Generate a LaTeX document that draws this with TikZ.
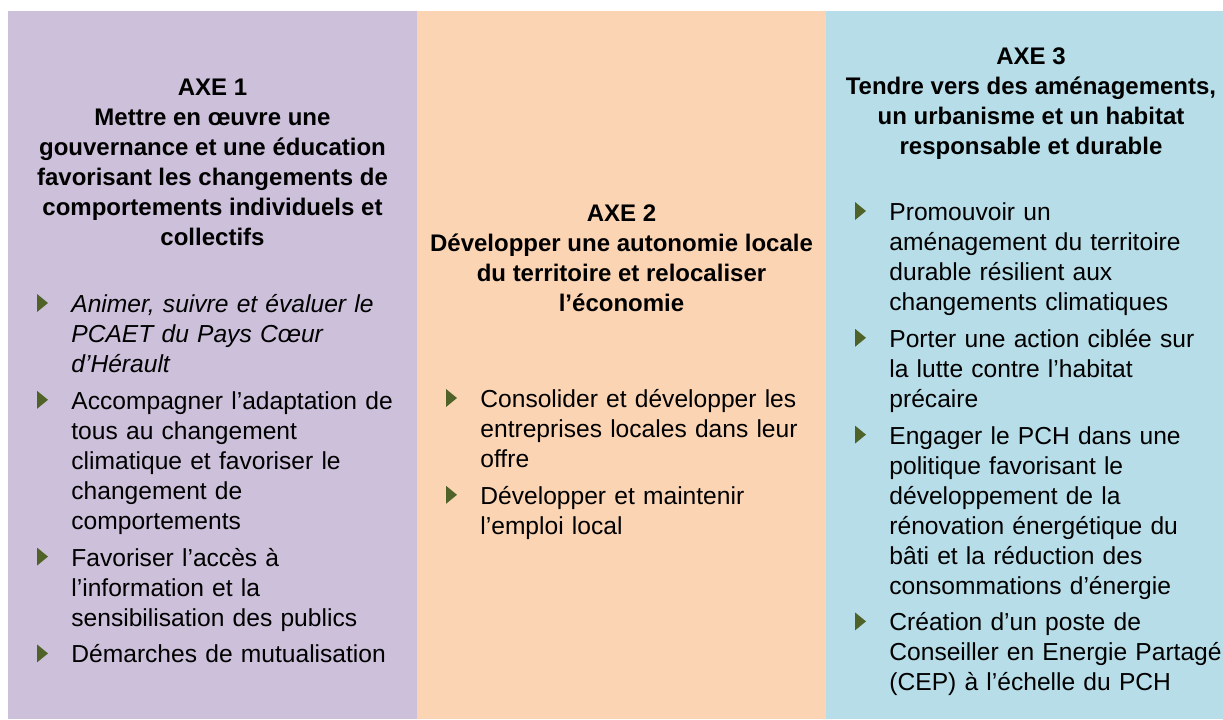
\documentclass[tikz,border=0pt]{standalone}
\usepackage{fontspec}
\setmainfont{Liberation Sans}
\usetikzlibrary{positioning, calc}

\definecolor{violet1}{HTML}{CCC0DA}
\definecolor{peche}{HTML}{FBD4B4}
\definecolor{bleu}{HTML}{B7DDE8}
\definecolor{vertpuce}{HTML}{4F6228}

\tikzset{
    titre/.style={align=center, inner sep=0pt, anchor=north,
        font=\fontsize{12}{15}\selectfont\bfseries,
        execute at begin node=\strut, execute at end node=\strut},
    objectif/.style={align=left, text width=190pt, inner sep=0pt,
        font=\fontsize{12.3}{15}\selectfont,
        execute at begin node=\strut, execute at end node=\strut},
    pucestyle/.style={fill=vertpuce}
}
\newcommand{\fleche}[1]{\fill[pucestyle] ($(#1.north west)+(-17pt,-1.5pt)$) -- ++(5.5pt,-4.5pt) -- ++(-5.5pt,-4.5pt) -- cycle;}

\begin{document}
\begin{tikzpicture}[x=0.5pt, y=-0.5pt, node distance=3pt]
                        \useasboundingbox (0,0) rectangle (1223,719);
                        \fill[violet1] (8,11) rectangle (417,719);
                        \fill[peche] (417,11) rectangle (826,719);
                        \fill[bleu] (826,11) rectangle (1223,719);

                        % axe 1
                        \node[titre] (axe1) at (212.5,79) {AXE 1\\ Mettre en œuvre une\\ gouvernance et une éducation\\ favorisant les changements de\\ comportements individuels et\\ collectifs};
                        \node[objectif, anchor=north west] (a11) at (71,291) {\itshape Animer, suivre et évaluer le\\ PCAET du Pays Cœur\\ d’Hérault};
                        \node[objectif, below=of a11] (a12) {Accompagner l’adaptation de\\ tous au changement\\ climatique et favoriser le\\ changement de\\ comportements};
                        \node[objectif, below=of a12] (a13) {Favoriser l’accès à\\ l’information et la\\ sensibilisation des publics};
                        \node[objectif, below=of a13] (a14) {Démarches de mutualisation};

                        % axe 2
                        \node[titre] (axe2) at (621.5,204) {AXE 2\\ Développer une autonomie locale\\ du territoire et relocaliser\\ l’économie};
                        \node[objectif, anchor=north west] (a21) at (480,386) {Consolider et développer les\\ entreprises locales dans leur\\ offre};
                        \node[objectif, below=of a21] (a22) {Développer et maintenir\\ l’emploi local};

                        % axe 3
                        \node[titre] (axe3) at (1031,47) {AXE 3\\ Tendre vers des aménagements,\\ un urbanisme et un habitat\\ responsable et durable};
                        \node[objectif, anchor=north west] (a31) at (889,199) {Promouvoir un\\ aménagement du territoire\\ durable résilient aux\\ changements climatiques};
                        \node[objectif, below=of a31] (a32) {Porter une action ciblée sur\\ la lutte contre l’habitat\\ précaire};
                        \node[objectif, below=of a32] (a33) {Engager le PCH dans une\\ politique favorisant le\\ développement de la\\ rénovation énergétique du\\ bâti et la réduction des\\ consommations d’énergie};
                        \node[objectif, below=of a33] (a34) {Création d’un poste de\\ Conseiller en Energie Partagé\\ (CEP) à l’échelle du PCH};

                        \foreach \n in {a11, a12, a13, a14, a21, a22, a31, a32, a33, a34} {
                            \fleche{\n}
                        }
                    \end{tikzpicture}
\end{document}
